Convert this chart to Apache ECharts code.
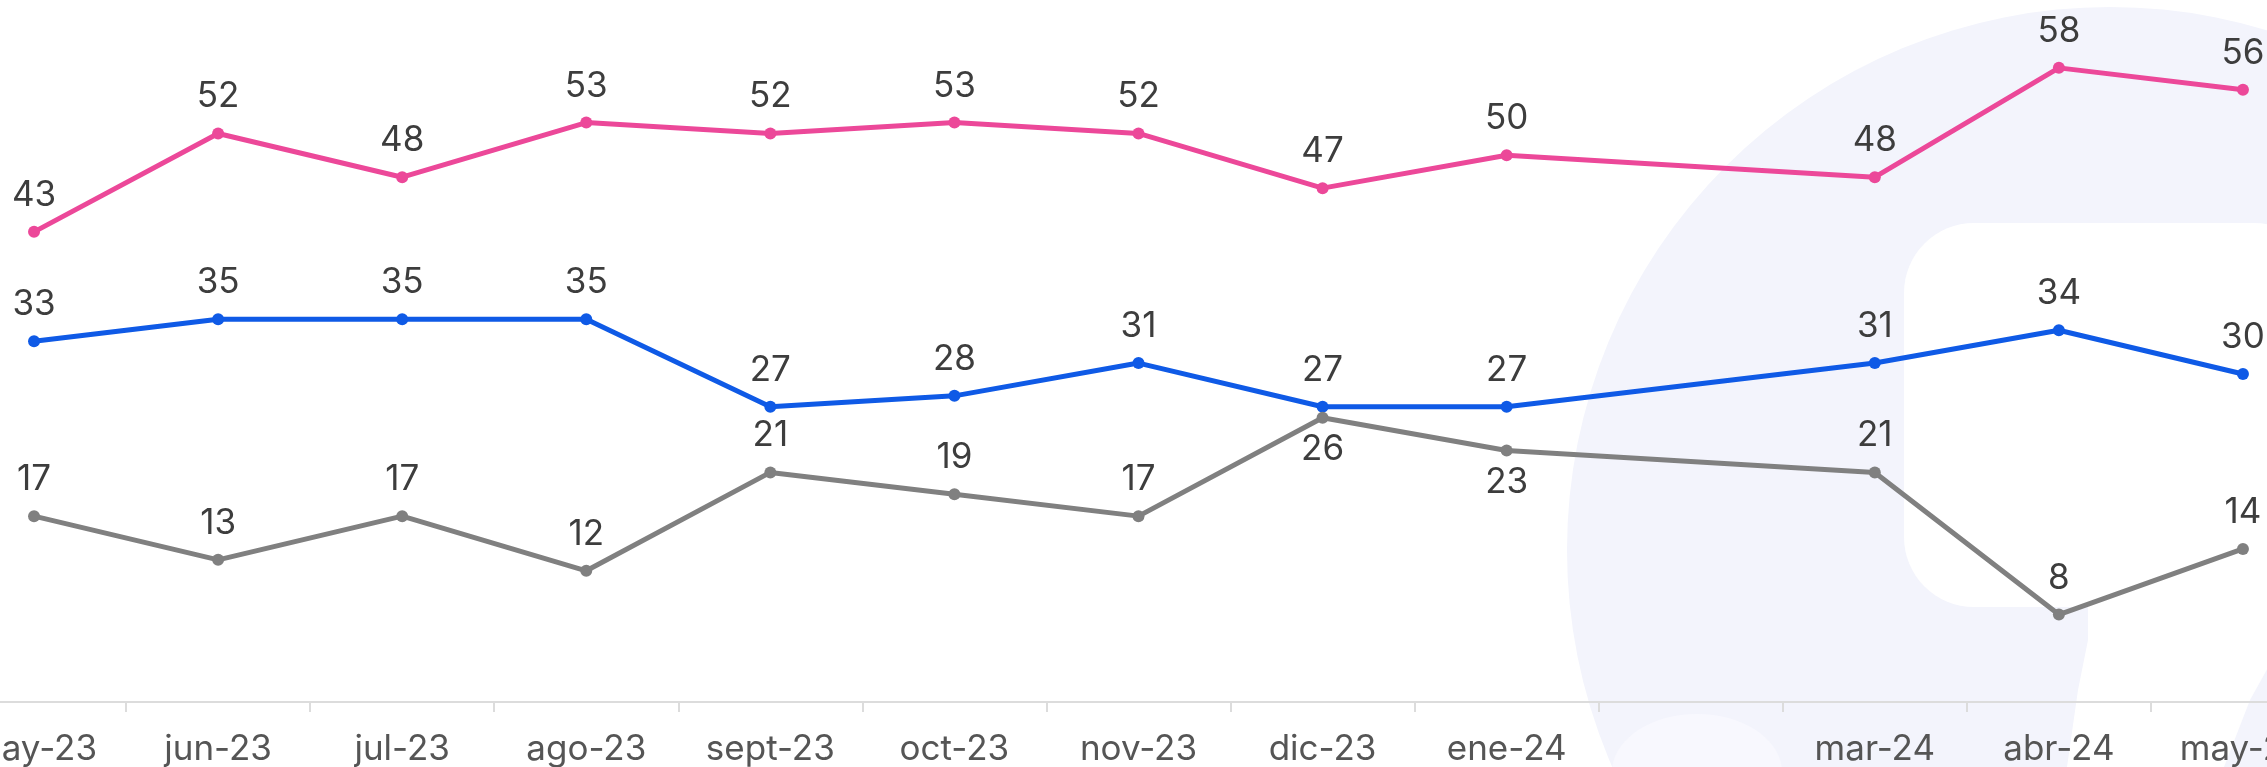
<!DOCTYPE html>
<html>
<head>
<meta charset="utf-8">
<script src="https://cdn.jsdelivr.net/npm/echarts@6/dist/echarts.min.js"></script>
<style>
html, body { margin: 0; padding: 0; background: #fff; overflow: hidden; width: 2267px; height: 767px; }
/* el gráfico original sale recortado por ambos lados */
#chart { position: absolute; left: -58px; top: 0; width: 2393px; height: 767px; }
</style>
</head>
<body>
<div id="chart"></div>
<script>
// categorías (feb-24 sin dato ni etiqueta)
const months = ['may-23', 'jun-23', 'jul-23', 'ago-23', 'sept-23', 'oct-23', 'nov-23', 'dic-23', 'ene-24', '', 'mar-24', 'abr-24', 'may-24'];
const pinkValues = [43, 52, 48, 53, 52, 53, 52, 47, 50, null, 48, 58, 56];
const blueValues = [33, 35, 35, 35, 27, 28, 31, 27, 27, null, 31, 34, 30];
const grayValues = [17, 13, 17, 12, 21, 19, 17, 26, 23, null, 21, 8, 14];
// etiquetas de la serie gris que van debajo del punto
const grayBelow = ['dic-23', 'ene-24'];

const labelFont = 'Inter';
const dx = 58; // desplazamiento del contenedor

function lineSeries(name, color, values, below) {
    return {
        name: name,
        type: 'line',
        connectNulls: true,
        symbol: 'circle',
        symbolSize: 12,
        lineStyle: { width: 5, color: color },
        itemStyle: { color: color },
        z: 5,
        label: {
            show: true,
            position: 'top',
            distance: 13,
            color: '#3d3d3d',
            fontSize: 35,
            fontFamily: labelFont
        },
        data: values.map(function (v, i) {
            if (below && below.indexOf(months[i]) >= 0) {
                return { value: v, label: { position: 'bottom', distance: 8 } };
            }
            return v;
        })
    };
}

const myChart = echarts.init(document.getElementById('chart'));
const option = {
    animation: false,
    backgroundColor: '#ffffff',
    grid: {
        left: 0,
        right: 0,
        top: 46,
        bottom: 65,
        containLabel: false
    },
    // marca de agua de fondo
    graphic: [
        { type: 'circle', silent: true, z: -10, shape: { cx: 2110 + dx, cy: 550, r: 543 }, style: { fill: '#f3f4fc' } },
        { type: 'ellipse', silent: true, z: -9, shape: { cx: 1697 + dx, cy: 772, rx: 85, ry: 58 }, style: { fill: '#f8f8fe' } },
        { type: 'rect', silent: true, z: -9, shape: { x: 1904 + dx, y: 223, width: 420, height: 384, r: 70 }, style: { fill: '#ffffff' } },
        { type: 'polygon', silent: true, z: -9, shape: { points: [[2088 + dx, 596], [2290 + dx, 596], [2290 + dx, 628], [2250 + dx, 700], [2224 + dx, 767], [2067 + dx, 767], [2078 + dx, 690], [2088 + dx, 640]] }, style: { fill: '#ffffff' } }
    ],
    xAxis: {
        type: 'category',
        data: months,
        boundaryGap: true,
        axisLine: { lineStyle: { color: '#dcdcdc', width: 2 } },
        axisTick: { show: true, length: 10, lineStyle: { color: '#dcdcdc', width: 2 } },
        axisLabel: {
            interval: 0,
            hideOverlap: false,
            margin: 30,
            color: '#555555',
            fontSize: 35,
            fontFamily: labelFont
        },
        splitLine: { show: false }
    },
    yAxis: {
        type: 'value',
        min: 0,
        max: 60,
        show: false,
        splitLine: { show: false }
    },
    series: [
        lineSeries('rosa', '#ec4899', pinkValues, null),
        lineSeries('azul', '#0f5ae6', blueValues, null),
        lineSeries('gris', '#808080', grayValues, grayBelow)
    ]
};
myChart.setOption(option);
</script>
</body>
</html>
